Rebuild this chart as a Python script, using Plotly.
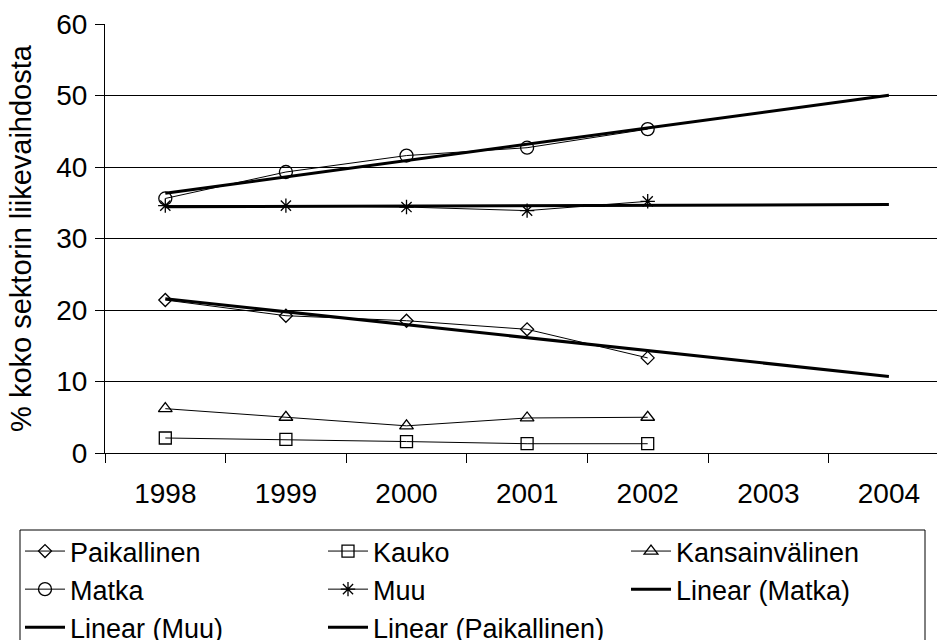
import numpy as np
import plotly.graph_objects as go

years_all = ["1998", "1999", "2000", "2001", "2002", "2003", "2004"]
years_data = ["1998", "1999", "2000", "2001", "2002"]

paikallinen = [21.4, 19.2, 18.5, 17.3, 13.3]
kauko = [2.1, 1.9, 1.6, 1.3, 1.3]
kansainvalinen = [6.2, 5.0, 3.8, 4.9, 5.0]
matka = [35.6, 39.3, 41.6, 42.7, 45.3]
muu = [34.6, 34.6, 34.4, 33.9, 35.2]

y_ticks = [0, 10, 20, 30, 40, 50, 60]

FONT = "Liberation Sans, Arial, sans-serif"


def trend(vals):
    xi = np.arange(len(vals))
    k, b = np.polyfit(xi, vals, 1)
    xt = np.arange(len(years_all))
    return list(k * xt + b)


fig = go.Figure()

def series(name, vals, symbol, size):
    fig.add_trace(go.Scatter(
        x=years_data, y=vals, name=name, mode="lines+markers",
        line=dict(color="black", width=1),
        marker=dict(symbol=symbol, size=size, color="black",
                    line=dict(color="black", width=1.3)),
    ))

series("Paikallinen", paikallinen, "diamond-open", 10)
series("Kauko", kauko, "square-open", 12)
series("Kansainvälinen", kansainvalinen, "triangle-up-open", 12)
series("Matka", matka, "circle-open", 13)
series("Muu", muu, "asterisk-open", 12)

for name, vals in [("Linear (Matka)", matka), ("Linear (Muu)", muu),
                   ("Linear (Paikallinen)", paikallinen)]:
    fig.add_trace(go.Scatter(
        x=years_all, y=trend(vals), name=name, mode="lines",
        line=dict(color="black", width=3),
    ))

W, H = 937, 640
L, R, T, B = 105, 0, 24, 187
pw = W - L - R
ph = H - T - B

def px_x(x):
    return (x - L) / pw

def px_y(y):
    return (H - B - y) / ph

fig.update_layout(
    width=W, height=H,
    margin=dict(l=L, r=R, t=T, b=B, pad=0, autoexpand=False),
    paper_bgcolor="white", plot_bgcolor="white",
    font=dict(family=FONT, size=28, color="black"),
    showlegend=True,
    legend=dict(
        orientation="h",
        x=px_x(20), xanchor="left",
        y=px_y(527), yanchor="top",
        bgcolor="rgba(0,0,0,0)",
        borderwidth=0,
        font=dict(family=FONT, size=27, color="black"),
        entrywidth=248, entrywidthmode="pixels",
        itemwidth=40,
        tracegroupgap=0,
        traceorder="normal",
    ),
    xaxis=dict(
        type="category", categoryorder="array", categoryarray=years_all,
        range=[-0.5, -0.5 + pw / 120.6],
        tickson="boundaries", ticks="outside", ticklen=9, tickwidth=1,
        tickcolor="black", showgrid=False, showline=True, linecolor="black",
        linewidth=1, zeroline=False, ticklabelstandoff=15,
        tickfont=dict(family=FONT, size=28, color="black"),
        fixedrange=True,
    ),
    yaxis=dict(
        range=[0, 60], tickvals=y_ticks, ticks="outside", ticklen=9,
        tickwidth=1, tickcolor="black", showgrid=True, gridcolor="black",
        gridwidth=1, showline=True, linecolor="black", linewidth=1,
        zeroline=False, ticklabelstandoff=2,
        tickfont=dict(family=FONT, size=28, color="black"),
        title=dict(text="% koko sektorin liikevaihdosta",
                   font=dict(family=FONT, size=29, color="black"),
                   standoff=16),
        fixedrange=True,
    ),
    shapes=[dict(
        type="rect", xref="paper", yref="paper",
        x0=px_x(20), x1=px_x(925), y0=px_y(760), y1=px_y(530),
        line=dict(color="black", width=1), fillcolor="rgba(0,0,0,0)",
        layer="above",
    )],
)

fig.write_html("out.html")
